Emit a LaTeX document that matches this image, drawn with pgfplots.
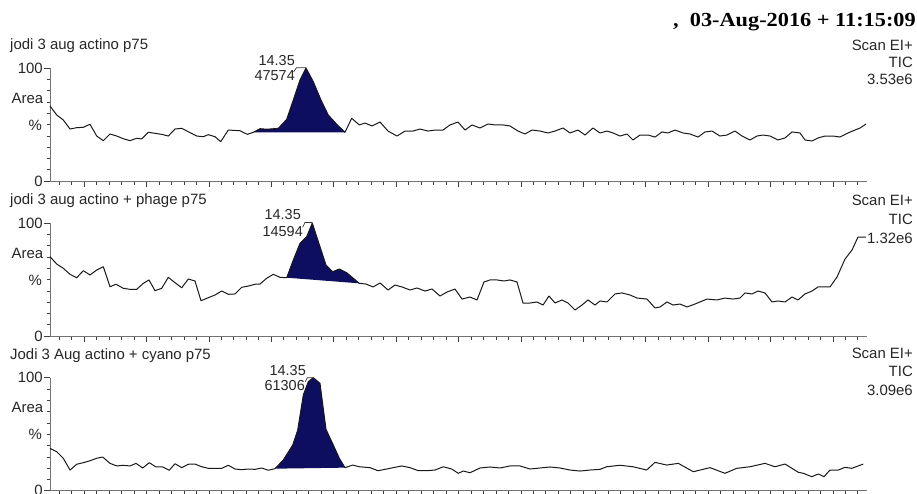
\documentclass[border=0pt]{standalone}
\usepackage{graphicx}
\usepackage{fontspec}
\setmainfont{Liberation Sans}
\newfontfamily\headfont{Liberation Serif}
\usepackage{pgfplots}
\pgfplotsset{compat=1.18}
\definecolor{peak}{RGB}{14,14,96}
\pgfplotsset{
  chrom/.style={
    width=817bp, height=113bp, scale only axis, anchor=south west,
    xmin=50, xmax=867, ymin=0, ymax=100,
    axis lines=left, axis line style={-, draw=black!55, line width=0.8bp},
    tick align=outside, tick style={black!75, line width=0.6bp},
    major tick length=6bp, minor tick length=3.5bp,
    xtick={84,146.4,...,833}, minor xtick={59.04,71.52,...,858},
    xticklabels={},
    ytick={0,100}, minor ytick={10,20,...,90},
    /pgf/number format/assume math mode=true,
    yticklabel style={font=\fontsize{15}{17}\selectfont, inner sep=1bp, text=black!85},
    clip=false,
  },
  trace/.style={black!90, line width=1bp, line join=round},
  pk/.style={fill=peak, draw=none},
}
\begin{document}
\begin{tikzpicture}
\useasboundingbox (0,0) rectangle (917bp,-494bp);
% ---------- panel 1
\begin{axis}[chrom, at={(50bp,-181bp)}]
\addplot[pk] coordinates {(253.3,43.1)(260,46.3)(266.7,45.8)(278.3,46.6)(286.7,54.6)(293.3,71.7)(300,89.4)(306,100)(313.3,87.9)(321.7,70.2)(328.3,58.4)(336.7,50.2)(345,43.1)};
\addplot[trace] coordinates {(50,66.4)(56.7,58.4)(63.3,54.0)(70,46.0)(76.7,47.2)(83.3,47.5)(90,50.2)(96.7,39.8)(103.3,35.7)(110,41.6)(116.7,39.8)(123.3,37.4)(130,35.7)(136.7,37.8)(141.7,37.2)(148.3,43.1)(155,42.2)(161.7,41.3)(168.3,39.8)(175,46.0)(181.7,46.6)(188.3,43.6)(196.7,39.8)(203.3,39.2)(208.3,41.0)(215,39.2)(220.7,34.8)(228.3,45.1)(240,44.5)(247.3,41.3)(253.3,43.1)(260,46.3)(266.7,45.8)(278.3,46.6)(286.7,54.6)(293.3,71.7)(300,89.4)(306,100)(313.3,87.9)(321.7,70.2)(328.3,58.4)(336.7,50.2)(345,43.1)(351.7,55.5)(359.3,49.6)(365,51.3)(372,48.7)(380,52.2)(388,44.2)(397,39.8)(405,44.2)(413,44.2)(420,46.0)(428,44.2)(435,45.1)(443,45.1)(450,49.6)(458,52.2)(465,45.1)(472,49.6)(480,46.9)(488,50.4)(495,49.6)(503,49.6)(510,48.7)(518,44.2)(525,41.6)(532,45.1)(540,44.2)(548,42.5)(555,44.2)(563,46.9)(570,42.5)(578,45.1)(585,40.7)(593,46.9)(600,42.5)(607,44.2)(613,42.5)(620,39.8)(627,41.6)(633,36.3)(640,40.7)(648,40.7)(655,38.9)(662,43.4)(668,42.5)(675,45.1)(683,42.5)(690,41.6)(698,38.9)(705,43.4)(712,44.2)(720,39.8)(727,40.7)(735,44.2)(742,39.8)(750,36.3)(757,39.8)(763,40.7)(770,39.8)(778,36.3)(785,38.1)(792,43.4)(800,42.5)(805,36.3)(812,35.4)(818,38.1)(825,39.8)(833,39.8)(840,38.9)(848,42.5)(855,45.1)(860,46.9)(866,50.4)};
\end{axis}
% ---------- panel 2
\begin{axis}[chrom, at={(50bp,-336bp)}]
\addplot[pk] coordinates {(286.7,51.6)(293.3,67.3)(300,82.0)(306.7,87.9)(312.3,100)(320,79.0)(326,62.8)(332.7,56.9)(339.3,59.3)(346.7,56.0)(353.3,51.1)(359.3,46.6)};
\addplot[trace] coordinates {(50,70.2)(56.7,63.7)(63.3,59.9)(70,54.6)(76.7,51.6)(83.3,57.8)(90,54.0)(96.7,58.4)(103.3,61.3)(110,43.6)(116,45.8)(123.3,42.2)(130,41.3)(136.7,41.3)(143.3,46.6)(149,49.6)(155,40.1)(161.7,42.2)(168.3,51.9)(175,47.2)(181.7,42.7)(188.3,50.4)(195,48.7)(201,31.2)(208.3,33.9)(215,36.3)(221.7,39.8)(228.3,36.9)(235,37.2)(241.7,43.1)(248.3,44.2)(255,45.8)(260,46.0)(266.7,51.1)(273.3,54.6)(280,51.9)(286.7,51.6)(293.3,67.3)(300,82.0)(306.7,87.9)(312.3,100)(320,79.0)(326,62.8)(332.7,56.9)(339.3,59.3)(346.7,56.0)(353.3,51.1)(359.3,46.6)(366,46.0)(373,43.4)(380,46.9)(388,40.7)(395,45.1)(402,43.4)(410,40.7)(417,42.5)(425,39.8)(432,41.6)(440,35.4)(447,38.9)(455,41.6)(462,32.7)(470,34.5)(477,31.9)(484,47.8)(490,49.6)(497,49.6)(504,48.7)(510,49.6)(517,47.8)(523,29.2)(530,29.2)(537,30.1)(543,27.4)(549,35.4)(555,29.2)(562,31.9)(568,29.2)(575,23.0)(582,27.4)(588,31.9)(595,27.4)(600,31.0)(607,30.1)(615,37.2)(622,38.1)(630,36.3)(637,33.6)(647,32.7)(655,24.8)(660,25.7)(667,30.1)(673,27.4)(680,28.3)(687,25.7)(695,28.3)(707,32.7)(717,31.9)(725,33.6)(733,32.7)(740,33.6)(745,38.1)(752,37.2)(758,39.8)(765,38.1)(772,30.1)(778,31.0)(785,30.1)(792,34.5)(798,31.9)(805,37.2)(812,39.8)(818,43.4)(830,43.4)(837,52.2)(845,68.1)(852,76.1)(858,87.6)(866,87.6)};
\end{axis}
% ---------- panel 3
\begin{axis}[chrom, at={(50bp,-490.7bp)}]
\addplot[pk] coordinates {(275,19.5)(283.3,27.2)(292.7,40.4)(297.7,53.7)(303.3,84.7)(308.3,96.5)(313.3,100)(320,95.0)(326,54.3)(333.3,40.4)(339.3,28.7)(345,20.4)};
\addplot[trace] coordinates {(50,37.5)(56.7,34.5)(63.3,28.7)(70,18.3)(76.7,23.4)(83.3,24.8)(90,26.5)(96.7,28.7)(102.7,29.8)(110,24.2)(116.7,21.9)(123.3,22.5)(130,21.9)(136,24.2)(142.7,20.1)(149.3,24.8)(156,21.0)(162.7,21.0)(169.3,18.1)(175,23.9)(181.7,20.4)(188.3,23.4)(195,23.6)(201.7,21.2)(208.3,19.8)(215,19.8)(221.7,19.8)(228.3,22.5)(235,19.2)(241.7,18.6)(248.3,19.2)(255,18.9)(261.7,20.1)(268.3,18.1)(275,19.5)(283.3,27.2)(292.7,40.4)(297.7,53.7)(303.3,84.7)(308.3,96.5)(313.3,100)(320,95.0)(326,54.3)(333.3,40.4)(339.3,28.7)(345,20.4)(352.7,22.7)(359.3,21.2)(370,20.4)(378,17.7)(386.7,19.2)(395,20.7)(401.7,21.9)(410,20.4)(418.3,17.7)(426.7,17.7)(435,18.3)(443.3,21.2)(451.7,19.2)(458.3,15.4)(463.3,17.4)(470,15.9)(480,20.1)(490,21.0)(500,20.1)(510,21.9)(520,21.9)(530,19.2)(540,20.1)(550,21.0)(560,20.1)(570,18.3)(580,17.4)(590,18.3)(600,18.9)(606.7,21.2)(620,22.5)(633,21.2)(646.7,18.3)(655,25.1)(666.7,22.7)(678.3,24.2)(693.3,16.8)(710,20.4)(725,15.4)(736.7,19.8)(750,21.2)(765,24.2)(775,21.2)(785,23.6)(798.3,16.3)(803.3,15.4)(811.7,12.4)(818.3,14.8)(824,12.4)(830,18.3)(838.3,18.3)(845,20.7)(851.7,19.8)(863.3,23.6)};
\end{axis}
% ---------- texts
\begin{scope}[every node/.style={inner sep=0pt, text=black!85, font=\fontsize{15}{17}\selectfont}]
\node[anchor=base east, text=black, font=\headfont\bfseries\fontsize{20}{22}\selectfont] at (916bp,-26bp) {\scalebox{1.12}[1]{,\ \ 03-Aug-2016 + 11:15:09}};
% titles
\node[anchor=base west] at (10bp,-49.5bp) {jodi 3 aug actino p75};
\node[anchor=base west] at (10bp,-204bp) {jodi 3 aug actino + phage p75};
\node[anchor=base west] at (10bp,-359bp) {Jodi 3 Aug actino + cyano p75};
% right labels
\foreach \a/\b/\c/\t in {50/67/84/3.53e6, 205/224/243/1.32e6, 358/376.5/395/3.09e6}{
  \node[anchor=base east] at (913bp,-\a bp) {Scan EI+};
  \node[anchor=base east] at (913bp,-\b bp) {TIC};
  \node[anchor=base east] at (913bp,-\c bp) {\t};
}
% Area / %
\foreach \z in {181,336,490.7}{
  \node[anchor=base east] at (43.5bp,{-(\z-78)*1bp}) {Area};
  \node[anchor=base east] at (42bp,{-(\z-51)*1bp}) {\%};
}
% peak labels
\begin{scope}[every node/.append style={font=\fontsize{14.5}{16}\selectfont}]
\node[anchor=base east] at (295bp,-65bp) {14.35};
\node[anchor=base east] at (295bp,-80bp) {47574};
\node[anchor=base east] at (301bp,-219bp) {14.35};
\node[anchor=base east] at (303bp,-236.7bp) {14594};
\node[anchor=base east] at (306bp,-375bp) {14.35};
\node[anchor=base east] at (305bp,-390.7bp) {61306};
\end{scope}
\end{scope}
\draw[black!80, line width=0.7bp] (293.5bp,-72bp) -- (296.5bp,-67.7bp) -- (306bp,-67.7bp);
\draw[black!80, line width=0.7bp] (302.7bp,-227.3bp) -- (305bp,-222.5bp) -- (312.3bp,-222.5bp);
\draw[black!80, line width=0.7bp] (305.3bp,-381.7bp) -- (307.3bp,-377.7bp) -- (313.3bp,-377.7bp);
\end{tikzpicture}
\end{document}
